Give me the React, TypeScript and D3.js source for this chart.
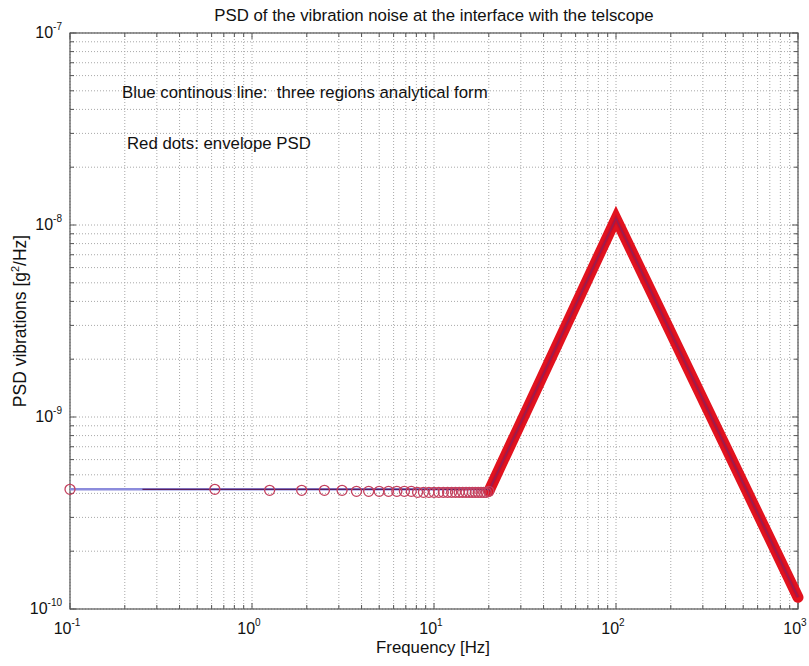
import React from "react";
import * as d3 from "d3";

// blue analytical form: breakpoints (Hz, g^2/Hz)
const modelFreq = [0.1, 20, 100, 1000];
const modelPsd = [4.2e-10, 4.2e-10, 1.08e-8, 1.15e-10];

// red envelope: individual circles in the flat region
const dotFreq = [
  0.1, 0.625, 1.25, 1.875, 2.5, 3.125, 3.75, 4.375, 5, 5.625, 6.25, 6.875, 7.5,
  8.125, 8.75, 9.375, 10, 10.625, 11.25, 11.875, 12.5, 13.125, 13.75, 14.375,
  15, 15.625, 16.25, 16.875, 17.5, 18.125, 18.75, 19.375, 20,
];
const dotPsd = [
  4.2e-10, 4.2e-10, 4.15e-10, 4.15e-10, 4.15e-10, 4.15e-10, 4.1e-10, 4.1e-10,
  4.1e-10, 4.1e-10, 4.1e-10, 4.1e-10, 4.1e-10, 4.05e-10, 4.05e-10, 4.05e-10,
  4.05e-10, 4.05e-10, 4.05e-10, 4.05e-10, 4.05e-10, 4.05e-10, 4.05e-10,
  4.05e-10, 4.05e-10, 4.05e-10, 4.05e-10, 4.05e-10, 4.05e-10, 4.05e-10,
  4.05e-10, 4.05e-10, 4.1e-10,
];
// dense part of the envelope (circles overlap into a band)
const bandFreq = [20, 100, 1000];
const bandPsd = [4.1e-10, 1.08e-8, 1.15e-10];

const xTicks = [0.1, 1, 10, 100, 1000];
const xExp = ["-1", "0", "1", "2", "3"];
const yTicks = [1e-10, 1e-9, 1e-8, 1e-7];
const yExp = ["-10", "-9", "-8", "-7"];

const W = 809;
const H = 666;
const m = { left: 70, right: 798, top: 33, bottom: 609 };

const x = d3.scaleLog().domain([0.1, 1000]).range([m.left, m.right]);
const y = d3.scaleLog().domain([1e-10, 1e-7]).range([m.bottom, m.top]);

const minor = (lo: number, hi: number) => {
  const out: number[] = [];
  for (let e = lo; e < hi; e++) for (let k = 1; k < 10; k++) out.push(k * Math.pow(10, e));
  out.push(Math.pow(10, hi));
  return out;
};
const xGrid = minor(-1, 3);
const yGrid = minor(-10, -7);

const font = "Liberation Sans, Arial, sans-serif";
const fs = 16.8;

const App: React.FC = () => {
  const line = d3
    .line<number>()
    .x((_, i) => x(modelFreq[i]))
    .y((d) => y(d));
  const band = d3
    .line<number>()
    .x((_, i) => x(bandFreq[i]))
    .y((d) => y(d));
  const isMajor = (v: number) => Math.abs(Math.log10(v) - Math.round(Math.log10(v))) < 1e-9;

  return (
    <svg
      width={W}
      height={H}
      style={{ position: "absolute", left: 0, top: 0, background: "#fff" }}
      fontFamily={font}
    >
      {/* grid */}
      <g stroke="#a8a8a8" strokeWidth={1} strokeDasharray="1,2">
        {xGrid.map((v, i) => (
          <line key={"gx" + i} x1={x(v)} x2={x(v)} y1={m.top} y2={m.bottom} />
        ))}
        {yGrid.map((v, i) => (
          <line key={"gy" + i} x1={m.left} x2={m.right} y1={y(v)} y2={y(v)} />
        ))}
      </g>
      {/* ticks on all sides */}
      <g stroke="#555" strokeWidth={1}>
        {xGrid.map((v, i) => {
          const l = isMajor(v) ? 6 : 4;
          return (
            <g key={"tx" + i}>
              <line x1={x(v)} x2={x(v)} y1={m.bottom} y2={m.bottom - l} />
              <line x1={x(v)} x2={x(v)} y1={m.top} y2={m.top + l} />
            </g>
          );
        })}
        {yGrid.map((v, i) => {
          const l = isMajor(v) ? 6 : 4;
          return (
            <g key={"ty" + i}>
              <line x1={m.left} x2={m.left + l} y1={y(v)} y2={y(v)} />
              <line x1={m.right} x2={m.right - l} y1={y(v)} y2={y(v)} />
            </g>
          );
        })}
      </g>
      <rect
        x={m.left}
        y={m.top}
        width={m.right - m.left}
        height={m.bottom - m.top}
        fill="none"
        stroke="#555"
        strokeWidth={1.2}
      />

      {/* blue analytical line */}
      <path d={line(modelPsd) || ""} fill="none" stroke="#8c8cdc" strokeWidth={2.5} />

      {/* envelope band (dense red circles) */}
      <path
        d={band(bandPsd) || ""}
        fill="none"
        stroke="#e2121e"
        strokeWidth={11}
        strokeLinejoin="miter"
        strokeMiterlimit={6}
        strokeLinecap="round"
      />
      <path
        d={band(bandPsd) || ""}
        fill="none"
        stroke="#a8103a"
        strokeWidth={4}
        strokeLinejoin="miter"
        opacity={0.45}
      />
      <path
        d={band(bandPsd) || ""}
        fill="none"
        stroke="#6a2a7a"
        strokeWidth={1.2}
        opacity={0.6}
      />
      <line
        x1={x(0.25)}
        x2={x(20)}
        y1={y(modelPsd[0])}
        y2={y(modelPsd[1])}
        stroke="#5a1e5e"
        strokeWidth={1.4}
      />

      {/* envelope circles */}
      <g fill="none" stroke="#c4405e" strokeWidth={1.3}>
        {dotFreq.map((f, i) => (
          <circle key={"c" + i} cx={x(f)} cy={y(dotPsd[i])} r={5} />
        ))}
      </g>

      {/* tick labels */}
      <g fill="#111" fontSize={16}>
        {xTicks.map((v, i) => (
          <text key={"lx" + i} x={x(v) - 3} y={634} textAnchor="middle">
            10
            <tspan fontSize={10} dy={-8}>
              {xExp[i]}
            </tspan>
          </text>
        ))}
        {yTicks.map((v, i) => (
          <text key={"ly" + i} x={62} y={y(v) + 5} textAnchor="end">
            10
            <tspan fontSize={10} dy={-8}>
              {yExp[i]}
            </tspan>
          </text>
        ))}
      </g>

      <text x={434} y={21} textAnchor="middle" fontSize={fs} fill="#111">
        PSD of the vibration noise at the interface with the telscope
      </text>
      <text x={433} y={653} textAnchor="middle" fontSize={fs} fill="#111">
        Frequency [Hz]
      </text>
      <text
        transform="translate(26,321) rotate(-90)"
        textAnchor="middle"
        fontSize={17.5}
        fill="#111"
      >
        PSD vibrations [g
        <tspan fontSize={11} dy={-7}>
          2
        </tspan>
        <tspan dy={7}>/Hz]</tspan>
      </text>
      <text x={122} y={98} fontSize={fs} fill="#111" xmlSpace="preserve">
        {"Blue continous line:  three regions analytical form"}
      </text>
      <text x={127} y={149} fontSize={fs} fill="#111">
        Red dots: envelope PSD
      </text>
    </svg>
  );
};

export default App;
